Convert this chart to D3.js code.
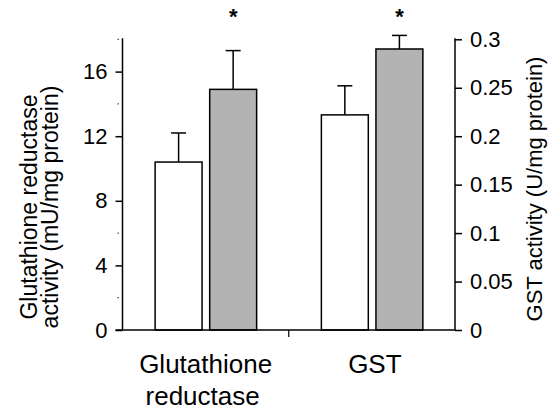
<!DOCTYPE html>
<html>
<head>
<meta charset="utf-8">
<script src="https://cdn.jsdelivr.net/npm/d3@7"></script>
<style>
  html, body { margin: 0; padding: 0; background: #fff; }
  svg text { font-family: "Liberation Sans", Arial, Helvetica, sans-serif; fill: #000; }
</style>
</head>
<body>
<svg id="chart" width="548" height="413"></svg>
<script>
// Enzyme activities: glutathione reductase on the left axis (mU/mg protein),
// GST on the right axis (U/mg protein). Two groups per assay, error = SD (upper only).
const categories = ["Glutathione reductase", "GST"];
const groups = ["control", "treated"];
const meanValues = {
  "Glutathione reductase": [10.4, 14.9],
  "GST": [0.222, 0.290]
};
const errValues = {
  "Glutathione reductase": [1.8, 2.4],
  "GST": [0.030, 0.014]
};
const significant = {
  "Glutathione reductase": [false, true],
  "GST": [false, true]
};
const leftTicks = [0, 4, 8, 12, 16];
const leftMinorTicks = [2, 6, 14, 18];
const rightTicks = [0, 0.05, 0.1, 0.15, 0.2, 0.25, 0.3];
const categoryLabelLines = {
  "Glutathione reductase": ["Glutathione", "reductase"],
  "GST": ["GST"]
};
const groupFill = { control: "#ffffff", treated: "#b3b3b3" };

const svg = d3.select("#chart");
const yBottom = 330, yTop = 39.3;
const xLeft = 122.5, xRight = 455;

const x0 = d3.scaleBand().domain(categories).range([xLeft, xRight]).paddingInner(0).paddingOuter(0);
const x1 = d3.scaleBand().domain(groups).range([-50.5, 51]).paddingInner(0.14);
const yLeft = d3.scaleLinear().domain([0, 18]).range([yBottom, yTop]);
const yRight = d3.scaleLinear().domain([0, 0.3]).range([yBottom, yTop]);
const yFor = c => c === "GST" ? yRight : yLeft;

// Bars and error bars
categories.forEach(cat => {
  const cx = x0(cat) + x0.bandwidth() / 2;
  const y = yFor(cat);
  const g = svg.append("g").attr("transform", `translate(${cx},0)`);
  groups.forEach((grp, i) => {
    const v = meanValues[cat][i];
    const e = errValues[cat][i];
    const bx = x1(grp);
    const bw = x1.bandwidth();
    const mid = bx + bw / 2;
    // error bar (upper)
    g.append("line").attr("x1", mid).attr("x2", mid)
      .attr("y1", y(v)).attr("y2", y(v + e))
      .attr("stroke", "#000").attr("stroke-width", 1.5);
    g.append("line").attr("x1", mid - 7.5).attr("x2", mid + 7.5)
      .attr("y1", y(v + e)).attr("y2", y(v + e))
      .attr("stroke", "#000").attr("stroke-width", 1.5);
    g.append("rect").attr("x", bx).attr("y", y(v))
      .attr("width", bw).attr("height", y(0) - y(v))
      .attr("fill", groupFill[grp]).attr("stroke", "#000").attr("stroke-width", 1.5);
    if (significant[cat][i]) {
      g.append("text").attr("x", mid).attr("y", 24)
        .attr("text-anchor", "middle").attr("font-size", 22).attr("font-weight", "bold")
        .text("*");
    }
  });
});

// Left axis
const leftAxis = d3.axisLeft(yLeft).tickValues(leftTicks).tickSize(7).tickPadding(8)
  .tickFormat(d3.format("d"));
const gl = svg.append("g").attr("transform", `translate(${xLeft},0)`).call(leftAxis);
gl.select(".domain").remove();
gl.selectAll(".tick line").attr("stroke", "#000").attr("stroke-width", 1.5);
gl.selectAll(".tick text").attr("font-size", 22).attr("font-family", "Liberation Sans, Arial, sans-serif");
gl.append("line").attr("x1", 0).attr("x2", 0).attr("y1", yBottom).attr("y2", yLeft(18) - 1)
  .attr("stroke", "#000").attr("stroke-width", 1.5);
gl.selectAll(".minor").data(leftMinorTicks).enter().append("line")
  .attr("class", "minor")
  .attr("x1", -5).attr("x2", -3.5)
  .attr("y1", d => yLeft(d)).attr("y2", d => yLeft(d))
  .attr("stroke", "#555").attr("stroke-width", 1.2);

// Right axis
const rightAxis = d3.axisRight(yRight).tickValues(rightTicks).tickSize(7).tickPadding(8)
  .tickFormat(d => d === 0 ? "0" : String(+d.toFixed(2)));
const gr = svg.append("g").attr("transform", `translate(${xRight},0)`).call(rightAxis);
gr.select(".domain").remove();
gr.selectAll(".tick line").attr("stroke", "#000").attr("stroke-width", 1.5);
gr.selectAll(".tick text").attr("font-size", 22).attr("font-family", "Liberation Sans, Arial, sans-serif");
gr.append("line").attr("x1", 0).attr("x2", 0).attr("y1", yBottom).attr("y2", yRight(0.3) - 1)
  .attr("stroke", "#000").attr("stroke-width", 1.5);

// Baseline and category axis
svg.append("line").attr("x1", xLeft - 7).attr("x2", xRight)
  .attr("y1", yBottom).attr("y2", yBottom)
  .attr("stroke", "#000").attr("stroke-width", 1.5);
const midX = x0("GST");
svg.append("line").attr("x1", midX).attr("x2", midX)
  .attr("y1", yBottom).attr("y2", yBottom + 7)
  .attr("stroke", "#000").attr("stroke-width", 1.2);

categories.forEach(cat => {
  const cx = x0(cat) + x0.bandwidth() / 2;
  const t = svg.append("text").attr("text-anchor", "middle").attr("font-size", 26);
  categoryLabelLines[cat].forEach((line, i) => {
    t.append("tspan").attr("x", cx - (i === 1 ? 3 : 0) + (cat === "GST" ? 3 : 0))
      .attr("y", 373 + i * 32).text(line);
  });
});

// Axis titles
const lt = svg.append("text").attr("text-anchor", "middle").attr("font-size", 23)
  .attr("transform", "translate(37,207) rotate(-90)");
lt.append("tspan").attr("x", 0).attr("y", 0).text("Glutathione reductase");
lt.append("tspan").attr("x", 0).attr("y", 21).text("activity (mU/mg protein)");

svg.append("text").attr("text-anchor", "middle").attr("font-size", 22)
  .attr("transform", "translate(542,189) rotate(-90)")
  .text("GST activity (U/mg protein)");
</script>
</body>
</html>
